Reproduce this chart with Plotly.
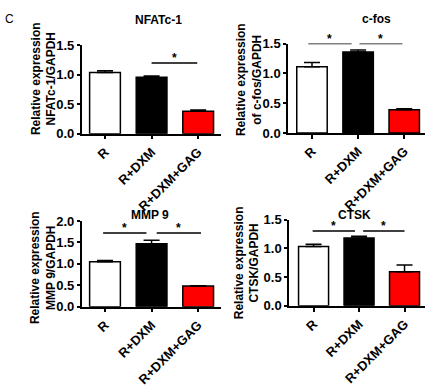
import plotly.graph_objects as go

W, H = 439, 390

categories = ["R", "R+DXM", "R+DXM+GAG"]
bar_colors = ["#ffffff", "#000000", "#ff0000"]

nfatc1_mean = [1.04, 0.96, 0.38]
nfatc1_err = [0.03, 0.02, 0.02]
cfos_mean = [1.11, 1.36, 0.39]
cfos_err = [0.07, 0.03, 0.015]
mmp9_mean = [1.05, 1.47, 0.48]
mmp9_err = [0.03, 0.08, 0.01]
ctsk_mean = [1.03, 1.18, 0.59]
ctsk_err = [0.04, 0.03, 0.12]

panel_titles = ["NFATc-1", "c-fos", "MMP 9", "CTSK"]
y_titles = ["Relative expression<br>NFATc-1/GAPDH",
            "Relative expression<br>of c-fos/GAPDH",
            "Relative expression<br>MMP 9/GAPDH",
            "Relative expression<br>CTSK/GAPDH"]
y_ticks = [[0, 0.5, 1.0, 1.5], [0, 0.5, 1.0, 1.5], [0, 0.5, 1.0, 1.5, 2.0], [0, 0.5, 1.0, 1.5]]
y_max = [1.5, 1.5, 2.0, 1.5]

# significance brackets: (x0, x1, y)
sig_nfatc1 = [(1.0, 1.98, 1.2)]
sig_cfos = [(-0.08, 0.86, 1.5), (1.03, 1.96, 1.5)]
sig_mmp9 = [(-0.04, 0.89, 1.72), (1.11, 2.06, 1.72)]
sig_ctsk = [(-0.02, 0.91, 1.30), (1.09, 2.0, 1.30)]

means = [nfatc1_mean, cfos_mean, mmp9_mean, ctsk_mean]
errs = [nfatc1_err, cfos_err, mmp9_err, ctsk_err]
sigs = [sig_nfatc1, sig_cfos, sig_mmp9, sig_ctsk]

# layout geometry in pixels: (x0, x1, ytop, ybottom)
boxes = [(81.7, 221, 40, 131.7), (288, 425, 38, 131),
         (81.7, 221, 222.5, 311.7), (289, 425, 221, 310.7)]
x_ranges = [[-0.5, 2.49], [-0.52, 2.45], [-0.5, 2.49], [-0.54, 2.45]]
title_pos = [(158, 14), (376, 13), (149.5, 216), (354.5, 216)]
ytitle_pos = [(44, 75), (249, 76), (42.5, 271), (247, 266.5)]

FONT = "Liberation Sans, Arial, sans-serif"

def px(x):
    return x / W

def py(y):
    return 1 - y / H

fig = go.Figure()
layout = dict(width=W, height=H, margin=dict(l=0, r=0, t=0, b=0),
              paper_bgcolor="white", plot_bgcolor="white", showlegend=False,
              font=dict(family=FONT, color="black"))
annotations = []
shapes = []

for i in range(4):
    xa = "x" if i == 0 else f"x{i+1}"
    ya = "y" if i == 0 else f"y{i+1}"
    fig.add_trace(go.Bar(
        x=categories, y=means[i], xaxis=xa, yaxis=ya,
        marker=dict(color=bar_colors, line=dict(color="black", width=1.5)),
        width=0.66,
        error_y=dict(type="data", array=errs[i], arrayminus=[0, 0, 0], symmetric=False,
                     color="black", thickness=1.5, width=8),
    ))
    x0, x1, yt, yb = boxes[i]
    axkey = "xaxis" if i == 0 else f"xaxis{i+1}"
    aykey = "yaxis" if i == 0 else f"yaxis{i+1}"
    layout[axkey] = dict(domain=[px(x0), px(x1)], anchor=ya, range=x_ranges[i],
                         showline=True, linecolor="black", linewidth=1.5,
                         ticks="outside", ticklen=4, tickwidth=1.5, tickcolor="black",
                         tickangle=-45, showgrid=False, zeroline=False,
                         tickfont=dict(family=FONT, size=13, color="black", weight="bold"))
    layout[aykey] = dict(domain=[py(yb), py(yt)], anchor=xa, range=[0, y_max[i]],
                         showline=True, linecolor="black", linewidth=1.5,
                         ticks="outside", ticklen=3, tickwidth=1.5, tickcolor="black",
                         tickvals=y_ticks[i], tickformat=".1f", showgrid=False, zeroline=False,
                         tickfont=dict(family=FONT, size=13, color="black", weight="bold"))
    tx, ty = title_pos[i]
    annotations.append(dict(text=f"<b>{panel_titles[i]}</b>", x=px(tx), y=py(ty), xref="paper", yref="paper",
                            showarrow=False, xanchor="center", yanchor="middle",
                            font=dict(family=FONT, size=12, color="black")))
    yx, yy = ytitle_pos[i]
    annotations.append(dict(text=f"<b>{y_titles[i]}</b>", x=px(yx), y=py(yy), xref="paper", yref="paper",
                            showarrow=False, xanchor="center", yanchor="middle", textangle=-90,
                            font=dict(family=FONT, size=12, color="black")))
    for (sx0, sx1, sy) in sigs[i]:
        shapes.append(dict(type="line", xref=xa, yref=ya, x0=sx0, x1=sx1, y0=sy, y1=sy,
                           line=dict(color="black", width=1.5)))
        annotations.append(dict(text="<b>*</b>", x=(sx0 + sx1) / 2, y=sy, xref=xa, yref=ya,
                                showarrow=False, xanchor="center", yanchor="bottom", yshift=-4,
                                font=dict(family=FONT, size=12, color="black")))

annotations.append(dict(text="C", x=px(9), y=py(12.5), xref="paper", yref="paper", showarrow=False,
                        xanchor="center", yanchor="middle", font=dict(family=FONT, size=12, color="black")))

layout["annotations"] = annotations
layout["shapes"] = shapes
fig.update_layout(**layout)
fig.write_html("out.html", config={"displayModeBar": False},
               post_script="document.body.style.margin='0px';")
